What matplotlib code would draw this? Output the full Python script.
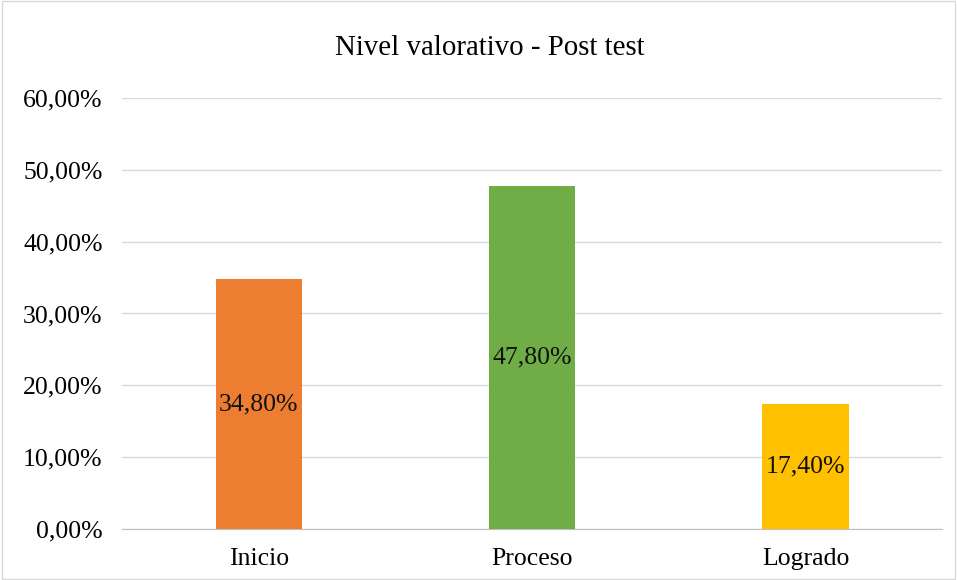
import matplotlib
matplotlib.use('Agg')
import matplotlib.pyplot as plt
from matplotlib.patches import Rectangle

categories = ['Inicio', 'Proceso', 'Logrado']
values = [34.80, 47.80, 17.40]
colors = ['#ED7D31', '#70AD47', '#FFC000']
yticks = [0, 10, 20, 30, 40, 50, 60]

plt.rcParams['font.family'] = ['Liberation Serif', 'DejaVu Serif']

fig = plt.figure(figsize=(9.57, 5.80), dpi=100)
ax = fig.add_axes([0.1275, 0.088, 0.857, 0.743])

x = range(len(categories))
bars = ax.bar(x, values, width=0.315, color=colors, zorder=3)

for b, v in zip(bars, values):
    ax.text(b.get_x() + b.get_width() / 2, v / 2, f"{v:.2f}%".replace('.', ','),
            ha='center', va='center', fontsize=18.5, color='#111111', zorder=4)

ax.set_xlim(-0.5, 2.5)
ax.set_ylim(0, 60)
ax.set_yticks(yticks)
ax.set_yticklabels([f"{t:.2f}%".replace('.', ',') for t in yticks], fontsize=18.5)
ax.set_xticks(list(x))
ax.set_xticklabels(categories, fontsize=18.5)
ax.yaxis.grid(True, color='#D9D9D9', linewidth=1, zorder=0)
ax.tick_params(axis='y', length=0, pad=14)
ax.tick_params(axis='x', length=0, pad=14)
for s in ['top', 'right', 'left']:
    ax.spines[s].set_visible(False)
ax.spines['bottom'].set_color('#BFBFBF')

fig.text(0.512, 0.918, 'Nivel valorativo - Post test', ha='center', va='center', fontsize=20.8)

fig.patches.append(Rectangle((0.002, 0.002), 0.996, 0.996, transform=fig.transFigure,
                             fill=False, edgecolor='#D9D9D9', linewidth=1))

fig.savefig('out.png', dpi=100)
